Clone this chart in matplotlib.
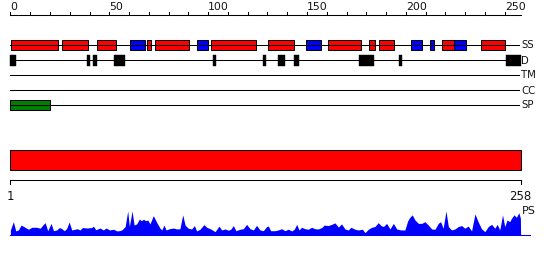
import matplotlib
matplotlib.use("Agg")
import matplotlib.pyplot as plt
from matplotlib.patches import Rectangle

# ---------------- data ----------------
seq_len = 258
ruler_ticks = list(range(0, 251, 10))
ruler_labels = [0, 50, 100, 150, 200, 250]

# secondary structure: H = helix (red), E = strand (blue)
ss_start = [0.5, 26, 44, 60.5, 69, 73, 94.5, 101.5, 130.5, 149.5, 160.5, 181.5, 186.5, 202.5, 212, 218.5, 224.5, 238]
ss_end   = [24, 39, 53.5, 68, 71, 90.5, 100, 124, 143.5, 157, 177.5, 184.5, 194, 208, 214, 224.5, 230.5, 250]
ss_type  = ["H", "H", "H", "E", "H", "H", "E", "H", "H", "E", "H", "H", "H", "E", "E", "H", "E", "H"]

dis_start = [0, 38.7, 41.7, 52.4, 102.4, 127.7, 135.3, 143.4, 176.3, 196.5, 250.6]
dis_end   = [3, 40.2, 43.8, 57.8, 104, 129.2, 138.8, 145.9, 183.9, 198, 258]

sp_start = [0]
sp_end = [20]

track_names = ["SS", "D", "TM", "CC", "SP"]

ps_pos = [1.0, 2.5, 3.7, 5.0, 6.4, 8.4, 10.1, 11.8, 14.3, 16.0, 17.3, 18.5, 19.8, 21.5, 22.7, 24.3,
          25.7, 26.9, 28.2, 29.4, 30.6, 31.9, 33.6, 34.7, 36.1, 37.3, 39.5, 42.0, 42.8, 44.0, 46.2,
          47.8, 49.2, 50.9, 52.9, 54.6, 55.9, 57.1, 58.8, 60.1, 60.9, 62.3, 63.3, 64.6, 66.0, 67.0,
          68.0, 69.2, 70.2, 71.3, 73.0, 74.7, 76.4, 77.2, 78.4, 79.4, 81.1, 83.1, 84.8, 86.4, 87.8,
          89.0, 90.6, 92.3, 93.7, 94.8, 96.5, 98.5, 99.9, 101.9, 104.1, 106.1, 107.4, 109.1, 110.8,
          112.0, 113.3, 114.6, 116.7, 118.3, 120.0, 121.7, 123.4, 125.0, 126.7, 128.4, 130.1, 130.9,
          132.1, 134.3, 135.9, 137.6, 139.3, 141.0, 142.7, 144.0, 145.2, 146.4, 147.7, 149.4, 151.1,
          152.7, 154.4, 156.1, 157.8, 159.1, 161.1, 162.8, 164.5, 166.2, 167.8, 169.5, 171.2, 172.5,
          174.6, 176.2, 178.3, 179.6, 181.3, 183.0, 184.6, 186.3, 187.7, 188.9, 190.5, 192.2, 193.9,
          195.6, 197.7, 199.7, 201.1, 202.2, 203.4, 204.8, 206.5, 208.2, 209.8, 211.5, 213.2, 214.9,
          216.5, 217.7, 219.0, 220.4, 221.6, 223.2, 224.9, 226.6, 228.3, 229.9, 231.6, 233.3, 235.0,
          236.6, 238.3, 240.0, 241.7, 243.4, 245.0, 246.2, 247.5, 248.9, 250.0, 251.2, 252.5, 253.4,
          254.7, 255.9, 257.1, 257.9, 258.0]
ps_val = [0.22, 0.56, 0.18, 0.22, 0.42, 0.33, 0.25, 0.33, 0.33, 0.29, 0.42, 0.52, 0.19, 0.49, 0.19, 0.22,
          0.32, 0.27, 0.19, 0.29, 0.55, 0.22, 0.25, 0.27, 0.22, 0.32, 0.30, 0.32, 0.38, 0.23, 0.30,
          0.22, 0.30, 0.22, 0.25, 0.18, 0.19, 0.22, 0.36, 1.00, 0.36, 1.00, 0.42, 0.47, 0.67, 0.60,
          0.66, 0.60, 0.63, 0.47, 0.81, 0.53, 0.29, 0.22, 0.42, 0.22, 0.27, 0.30, 0.26, 0.27, 0.84,
          0.42, 0.29, 0.26, 0.40, 0.18, 0.25, 0.44, 0.33, 0.26, 0.15, 0.38, 0.22, 0.26, 0.21,
          0.25, 0.40, 0.19, 0.25, 0.27, 0.45, 0.27, 0.22, 0.41, 0.22, 0.19, 0.36, 0.38,
          0.19, 0.19, 0.22, 0.27, 0.19, 0.25, 0.18, 0.25, 0.45, 0.22, 0.33, 0.27, 0.25,
          0.33, 0.27, 0.26, 0.32, 0.42, 0.40, 0.45, 0.51, 0.34, 0.47, 0.26, 0.22, 0.33,
          0.25, 0.22, 0.25, 0.11, 0.25, 0.33, 0.36, 0.52, 0.40, 0.36, 0.49, 0.26, 0.49,
          0.26, 0.22, 0.22, 0.59, 0.74, 0.84, 0.63, 0.49, 0.49, 0.56, 0.42, 0.26, 0.25,
          0.49, 0.56, 0.29, 1.00, 0.36, 0.22, 0.26, 0.36, 0.40, 0.29, 0.38, 0.18, 0.88,
          0.56, 0.27, 0.15, 0.36, 0.45, 0.29, 0.45, 0.22, 0.84, 0.36, 0.63, 0.56, 0.70,
          0.84, 0.74, 0.93, 0.70, 0.0]

# ---------------- figure ----------------
W, H = 550, 260
fig = plt.figure(figsize=(W / 100, H / 100), dpi=100)
fig.patch.set_facecolor("white")

LW = 0.75
x0_px, x1_px = 10.4, 520.6

# top panel: x in residues (0..258), y in pixel rows
ax = fig.add_axes([x0_px / W, 0, (x1_px - x0_px) / W, 1])
ax.set_xlim(0, seq_len)
ax.set_ylim(H, 0)
ax.axis("off")

# ruler
ax.plot([0, seq_len], [15, 15], color="black", lw=LW, clip_on=False)
for t in ruler_ticks:
    ax.plot([t, t], [15, 11.8], color="black", lw=LW, clip_on=False)
for t in ruler_labels:
    ax.text(t, 10.3, str(t), ha="left", va="baseline", fontsize=7.8,
            color="#111111", family="DejaVu Sans")

rows = {"SS": 45, "D": 60, "TM": 75, "CC": 90, "SP": 105}
for name in track_names:
    y = rows[name]
    ax.plot([0, seq_len - 0.8], [y, y], color="black", lw=LW, clip_on=False)
    ax.text(seq_len + 0.4, y + 0.5, name, ha="left", va="center", fontsize=7.3,
            color="#111111", family="DejaVu Sans")

colors = {"H": "#ff0000", "E": "#0000ff"}
for s, e, t in zip(ss_start, ss_end, ss_type):
    ax.add_patch(Rectangle((s, 40), e - s, 10, facecolor=colors[t],
                           edgecolor="black", lw=LW, clip_on=False))
for s, e in zip(dis_start, dis_end):
    ax.add_patch(Rectangle((s, 55), e - s, 10.5, facecolor="black",
                           edgecolor="black", lw=0.3, clip_on=False))
for s, e in zip(sp_start, sp_end):
    ax.add_patch(Rectangle((s, 100), e - s, 10, facecolor="#008000",
                           edgecolor="black", lw=LW, clip_on=False))

# bottom panel: x in residues (1..258)
ax2 = fig.add_axes([x0_px / W, 0, (x1_px - x0_px) / W, 1])
ax2.set_xlim(1, seq_len)
ax2.set_ylim(H, 0)
ax2.axis("off")
ax2.add_patch(Rectangle((1, 150), seq_len - 1, 20, facecolor="#ff0000",
                        edgecolor="black", lw=LW, clip_on=False))
ax2.plot([1, seq_len], [180.3, 180.3], color="black", lw=LW, clip_on=False)
for t in (1, seq_len):
    ax2.plot([t, t], [180.3, 184.3], color="black", lw=LW, clip_on=False)
    ax2.text(t, 196, str(t), ha="center", va="center", fontsize=8.5,
             color="#111111", family="DejaVu Sans")
ax2.text(seq_len + 0.4, 211.5, "PS", ha="left", va="center", fontsize=8,
         color="#111111", family="DejaVu Sans")

# PS profile
base_px, top_px = 235.3, 211.0
ax3 = fig.add_axes([x0_px / W, (H - base_px) / H, (x1_px - x0_px) / W, (base_px - top_px) / H])
ax3.set_xlim(1, seq_len)
ax3.set_ylim(0, 1)
ax3.axis("off")
ax3.fill_between(ps_pos, 0, ps_val, color="#0000ff", lw=0, clip_on=False)
ax3.plot([1, 262.7], [0, 0], color="#0000ff", lw=LW, clip_on=False)

fig.savefig("out.png", dpi=100, facecolor="white")
